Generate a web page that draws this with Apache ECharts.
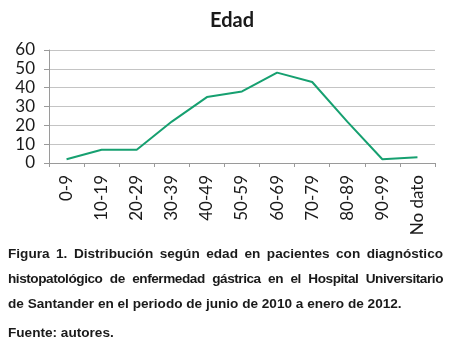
<!DOCTYPE html>
<html>
<head>
<meta charset="utf-8">
<script src="https://cdn.jsdelivr.net/npm/echarts@6/dist/echarts.min.js"></script>
<style>
  html, body { margin: 0; padding: 0; background: #fff; }
  .wrap { position: relative; width: 450px; height: 348px; overflow: hidden; }
  #chart { position: absolute; left: 0; top: 0; width: 450px; height: 348px; }
  .caption {
    position: absolute; left: 8px; width: 435px; top: 241px;
    font-family: 'Liberation Sans', Arial, sans-serif; font-weight: bold;
    font-size: 13.6px; line-height: 25px; color: #1a1a1a;
  }
  .caption div { white-space: nowrap; }
  .caption .j { text-align: justify; text-align-last: justify; }
  .caption .tight { letter-spacing: -0.45px; word-spacing: -0.5px; }
  .caption .src { margin-top: 4px; }
</style>
</head>
<body>
<div class="wrap">
  <div id="chart"></div>
  <div class="caption">
    <div class="j">Figura 1. Distribución según edad en pacientes con diagnóstico</div>
    <div class="j tight">histopatológico de enfermedad gástrica en el Hospital Universitario</div>
    <div>de Santander en el periodo de junio de 2010 a enero de 2012.</div>
    <div class="src">Fuente: autores.</div>
  </div>
</div>
<script>
const categories = ['0-9', '10-19', '20-29', '30-39', '40-49', '50-59', '60-69', '70-79', '80-89', '90-99', 'No dato']
const patients = [2, 7, 7, 22, 35, 38, 48, 43, 22, 2, 3]
const yTicks = { min: 0, max: 60, interval: 10 }

const chart = echarts.init(document.getElementById('chart'))

chart.setOption({
  animation: false,
  backgroundColor: '#fff',
  title: {
    text: 'Edad',
    left: 227,
    top: 6,
    textAlign: 'center',
    textStyle: {
      fontFamily: 'Lato',
      fontWeight: 'bold',
      fontSize: 20,
      color: '#1a1a1a',
    },
  },
  grid: {
    left: 49,
    right: 15,
    top: 50,
    bottom: 185,
  },
  xAxis: {
    type: 'category',
    data: categories,
    boundaryGap: true,
    axisLine: { lineStyle: { color: '#9a9a9a', width: 1 } },
    axisTick: { show: true, length: 4, lineStyle: { color: '#9a9a9a' } },
    axisLabel: {
      rotate: 90,
      interval: 0,
      margin: 12,
      fontFamily: 'Lato',
      fontSize: 17,
      color: '#1a1a1a',
    },
  },
  yAxis: {
    type: 'value',
    min: yTicks.min,
    max: yTicks.max,
    interval: yTicks.interval,
    axisLine: { show: true, lineStyle: { color: '#9a9a9a', width: 1 } },
    axisTick: { show: true, length: 5, lineStyle: { color: '#9a9a9a' } },
    axisLabel: {
      margin: 14,
      fontFamily: 'Lato',
      fontSize: 17,
      color: '#1a1a1a',
    },
    splitLine: { lineStyle: { color: '#c4c4c4', width: 1 } },
  },
  series: [
    {
      type: 'line',
      data: patients,
      symbol: 'none',
      lineStyle: { color: '#16a070', width: 2 },
    },
  ],
})
</script>
</body>
</html>
